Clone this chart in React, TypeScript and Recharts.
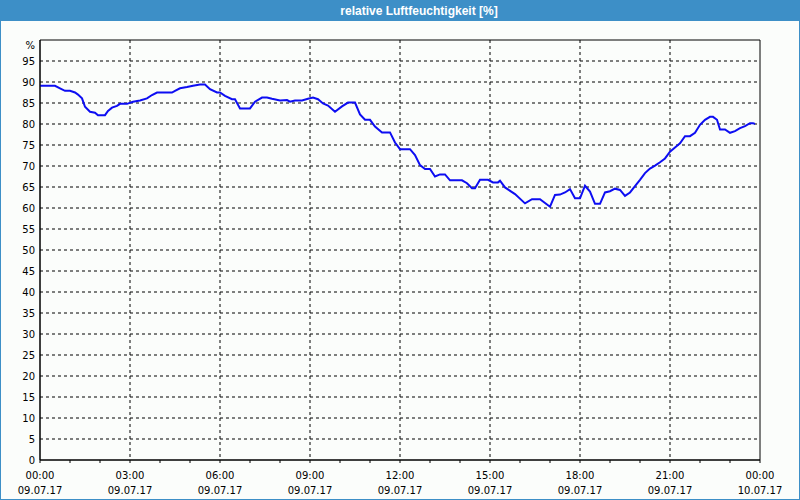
import React from "react";
import {
  LineChart,
  Line,
  XAxis,
  YAxis,
  CartesianGrid,
  ReferenceArea,
} from "recharts";

// time of day in minutes since 00:00 on 09.07.17
const minutes = [
  0, 30, 40, 50, 60, 70, 76, 84, 90, 100, 110, 116, 130, 136, 144, 154, 160,
  174, 186, 200, 214, 224, 234, 264, 270, 280, 294, 306, 320, 330, 340, 354,
  360, 370, 384, 390, 400, 420, 430, 444, 454, 464, 480, 494, 500, 510, 524,
  536, 546, 556, 566, 576, 590, 604, 616, 630, 640, 650, 660, 670, 684, 700,
  710, 720, 740, 750, 760, 770, 780, 790, 800, 810, 820, 844, 854, 864, 870,
  880, 896, 906, 916, 920, 930, 950, 970, 984, 1000, 1020, 1030, 1040, 1050,
  1060, 1070, 1080, 1090, 1100, 1110, 1120, 1130, 1140, 1150, 1160, 1170, 1180,
  1190, 1200, 1210, 1220, 1230, 1240, 1250, 1260, 1270, 1280, 1290, 1300, 1310,
  1320, 1330, 1340, 1346, 1354, 1360, 1370, 1380, 1390, 1400, 1410, 1420, 1426,
  1430,
];

// relative humidity in %
const humidity = [
  89.1, 89.1, 88.5, 87.9, 87.9, 87.5, 87.0, 86.1, 84.1, 82.9, 82.7, 82.1, 82.1,
  83.1, 83.9, 84.3, 84.8, 84.8, 85.3, 85.6, 86.1, 86.9, 87.5, 87.5, 87.9, 88.5,
  88.8, 89.1, 89.4, 89.4, 88.3, 87.5, 87.5, 86.7, 85.9, 85.9, 83.7, 83.7, 85.3,
  86.3, 86.3, 86.0, 85.6, 85.7, 85.3, 85.6, 85.6, 86.0, 86.3, 85.9, 84.9, 84.4,
  82.9, 84.2, 85.1, 85.1, 82.3, 81.0, 81.0, 79.4, 78.0, 78.0, 75.6, 74.0, 74.0,
  72.6, 70.2, 69.3, 69.3, 67.5, 68.0, 68.0, 66.6, 66.6, 65.9, 64.7, 64.7, 66.7,
  66.7, 66.1, 66.1, 66.5, 64.9, 63.3, 61.1, 62.1, 62.1, 60.3, 63.1, 63.2, 63.7,
  64.5, 62.3, 62.3, 65.3, 63.9, 61.0, 61.0, 63.7, 64.0, 64.6, 64.3, 62.9, 63.7,
  65.2, 66.7, 68.3, 69.4, 70.1, 70.9, 71.8, 73.4, 74.4, 75.4, 77.1, 77.1, 77.9,
  79.8, 81.0, 81.7, 81.7, 81.0, 78.7, 78.7, 77.9, 78.3, 79.0, 79.5, 80.2, 80.2,
  80.0,
];

const hourTicks = [
  0, 60, 120, 180, 240, 300, 360, 420, 480, 540, 600, 660, 720, 780, 840, 900,
  960, 1020, 1080, 1140, 1200, 1260, 1320, 1380, 1440,
];
const labelTicks = [0, 180, 360, 540, 720, 900, 1080, 1260, 1440];
const timeLabels = ["00:00", "03:00", "06:00", "09:00", "12:00", "15:00", "18:00", "21:00", "00:00"];
const dateLabels = ["09.07.17", "09.07.17", "09.07.17", "09.07.17", "09.07.17", "09.07.17", "09.07.17", "09.07.17", "10.07.17"];
const yTicks = [0, 5, 10, 15, 20, 25, 30, 35, 40, 45, 50, 55, 60, 65, 70, 75, 80, 85, 90, 95, 100];

const data = minutes.map((t, i) => ({ t, rh: humidity[i] }));

const font = "'DejaVu Sans', sans-serif";

const XTick = (props: any) => {
  const { x, y, payload } = props;
  const i = labelTicks.indexOf(payload.value);
  if (i < 0) return <g />;
  return (
    <text textAnchor="middle" fontSize={10} fontFamily={font} fill="#000">
      <tspan x={x} y={y + 13}>{timeLabels[i]}</tspan>
      <tspan x={x} y={y + 28}>{dateLabels[i]}</tspan>
    </text>
  );
};

const YTick = (props: any) => {
  const { x, y, payload } = props;
  const isTop = payload.value === 100;
  return (
    <text
      x={x}
      y={isTop ? y + 5 : y}
      dy="0.36em"
      textAnchor="end"
      fontSize={10}
      fontFamily={font}
      fill="#000"
    >
      {isTop ? "%" : payload.value}
    </text>
  );
};

export default function App() {
  return (
    <div
      style={{
        position: "absolute",
        left: 0,
        top: 0,
        width: 800,
        height: 500,
        boxSizing: "border-box",
        border: "1px solid #3d8fc7",
        background: "#fbfdfb",
      }}
    >
      <div
        style={{
          position: "absolute",
          left: 0,
          top: 0,
          width: 798,
          height: 20,
          background: "#3d8fc7",
        }}
      />
      <div
        style={{
          position: "absolute",
          left: 218,
          top: 3,
          width: 400,
          textAlign: "center",
          color: "#fff",
          fontFamily: "'Liberation Sans', Arial, sans-serif",
          fontWeight: "bold",
          fontSize: 12,
          lineHeight: "14px",
        }}
      >
        relative Luftfeuchtigkeit [%]
      </div>
      <div style={{ position: "absolute", left: -1, top: -1 }}>
        <LineChart
          width={800}
          height={500}
          data={data}
          margin={{ top: 40, right: 40, left: 0, bottom: 0 }}
        >
          <CartesianGrid
            stroke="#000"
            strokeDasharray="3 3"
            verticalValues={labelTicks.slice(1, -1)}
            horizontalValues={yTicks.slice(1, -1)}
          />
          <XAxis
            dataKey="t"
            type="number"
            domain={[0, 1440]}
            ticks={hourTicks}
            interval={0}
            height={40}
            tickSize={3}
            tickMargin={3}
            axisLine={{ stroke: "#000" }}
            tickLine={{ stroke: "#000" }}
            tick={<XTick />}
          />
          <YAxis
            type="number"
            domain={[0, 100]}
            ticks={yTicks}
            interval={0}
            width={40}
            tickSize={0}
            tickMargin={5}
            tickLine={false}
            axisLine={{ stroke: "#000" }}
            tick={<YTick />}
          />
          <ReferenceArea
            x1={0}
            x2={1440}
            y1={0}
            y2={100}
            fill="none"
            stroke="#000"
            strokeWidth={1}
          />
          <Line
            type="linear"
            dataKey="rh"
            stroke="#0d0df2"
            strokeWidth={2}
            dot={false}
            isAnimationActive={false}
          />
        </LineChart>
      </div>
    </div>
  );
}
